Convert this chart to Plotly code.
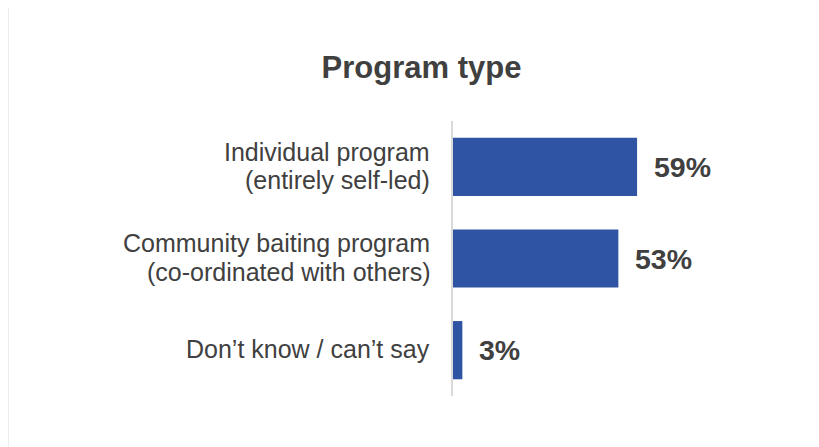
import plotly.graph_objects as go

categories = ["Individual program\n(entirely self-led)",
              "Community baiting program\n(co-ordinated with others)",
              "Don’t know / can’t say"]
values = [59, 53, 3]
value_labels = ["59%", "53%", "3%"]
title_text = "Program type"

FONT = "Arial, Liberation Sans, sans-serif"
TEXT = "#404040"
BAR = "#2F54A4"

W, H = 819, 447
ML, MR, MT, MB = 445, 62, 113, 59
PW = W - ML - MR
PH = H - MT - MB

ids = list(range(len(categories)))

fig = go.Figure(go.Bar(
    x=values, y=ids, orientation="h",
    marker=dict(color=BAR, line=dict(width=0)),
    width=0.635, hoverinfo="skip",
))

ann = []
for i, (cat, v, lab) in enumerate(zip(categories, values, value_labels)):
    lines = cat.split("\n")
    n = len(lines)
    for j, ln in enumerate(lines):
        shift = ((n - 1) / 2 - j) * 28.5 + 1
        ann.append(dict(x=0, y=i, xref="x", yref="y", text=ln, showarrow=False,
                        xanchor="right", yanchor="middle", xshift=-21, yshift=shift,
                        font=dict(family=FONT, size=25, color=TEXT)))
    ann.append(dict(x=v, y=i, xref="x", yref="y", text="<b>" + lab + "</b>",
                    showarrow=False, xanchor="left", yanchor="middle", xshift=15,
                    font=dict(family=FONT, size=28.5, color=TEXT)))

fig.update_layout(
    width=W, height=H,
    margin=dict(l=ML, r=MR, t=MT, b=MB),
    paper_bgcolor="white", plot_bgcolor="white",
    showlegend=False,
    title=dict(text="<b>" + title_text + "</b>", x=413.5 / W, xanchor="center",
               y=1 - 59 / H, yanchor="middle", yref="container",
               font=dict(family=FONT, size=31, color=TEXT)),
    xaxis=dict(range=[0, 100], showgrid=False, zeroline=False, showticklabels=False,
               showline=False, fixedrange=True),
    yaxis=dict(range=[2.5, -0.5], showgrid=False, zeroline=False, showticklabels=False,
               showline=True, linecolor="#D9D9D9", linewidth=2, ticks="", fixedrange=True),
    annotations=ann,
    shapes=[dict(type="line", xref="paper", yref="paper",
                 x0=-(ML - 0.5) / PW, x1=-(ML - 0.5) / PW,
                 y0=-MB / PH, y1=(PH + MT) / PH,
                 line=dict(color="#EDEDED", width=1))],
)

fig.write_html("out.html")
